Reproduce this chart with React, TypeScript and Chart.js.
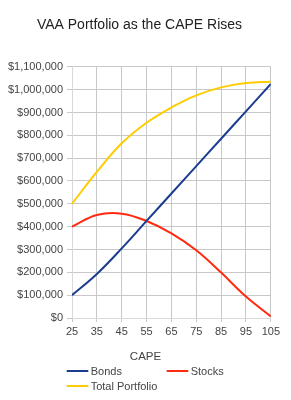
import React, { useEffect, useRef } from "react";
import { Chart, registerables } from "chart.js";

Chart.register(...registerables);

const TITLE = "VAA Portfolio as the CAPE Rises";
const X_TITLE = "CAPE";
const CAPE = [25, 35, 45, 55, 65, 75, 85, 95, 105];
const BONDS = [100000, 193000, 305000, 425000, 545000, 665000, 785000, 905000, 1025000];
const STOCKS = [400000, 451000, 457000, 425000, 371000, 297000, 199000, 94000, 7000];
const TOTAL = [500000, 640000, 765000, 855000, 922000, 975000, 1010000, 1029000, 1035000];
const SERIES_NAMES = ["Bonds", "Stocks", "Total Portfolio"];
const COLORS = ["#1b3d8f", "#ff2a10", "#ffcc00"];

const FONT = '"Liberation Sans", Arial, sans-serif';

const legendPlugin = {
  id: "customLegend",
  afterDraw(chart: any) {
    const ctx = chart.ctx;
    ctx.save();
    ctx.textBaseline = "middle";
    ctx.fillStyle = "#444444";
    ctx.textAlign = "center";
    ctx.font = `11.5px ${FONT}`;
    ctx.fillText(X_TITLE, chart.width / 2, 349);
    const slots = [
      [58.7, 363],
      [158.7, 363],
      [58.7, 378],
    ];
    ctx.font = `11px ${FONT}`;
    chart.data.datasets.forEach((ds: any, i: number) => {
      const [x, y] = slots[i];
      ctx.strokeStyle = ds.borderColor;
      ctx.lineWidth = 2;
      ctx.beginPath();
      ctx.moveTo(x, y);
      ctx.lineTo(x + 21.6, y);
      ctx.stroke();
      ctx.fillStyle = "#444444";
      ctx.textAlign = "left";
      ctx.fillText(ds.label, x + 24, y + 0.5);
    });
    ctx.restore();
  },
};

export default function App() {
  const ref = useRef<HTMLCanvasElement | null>(null);
  useEffect(() => {
    if (!ref.current) return;
    const series = [BONDS, STOCKS, TOTAL];
    const chart = new Chart(ref.current, {
      type: "line",
      data: {
        datasets: series.map((vals, i) => ({
          label: SERIES_NAMES[i],
          data: vals.map((v, j) => ({ x: CAPE[j], y: v })),
          borderColor: COLORS[i],
          backgroundColor: COLORS[i],
          borderWidth: 2,
          pointRadius: 0,
          fill: false,
          tension: 0.4,
        })),
      },
      options: {
        responsive: false,
        animation: false,
        layout: { padding: { left: 0, right: 12, top: 0, bottom: 44 } },
        plugins: {
          legend: { display: false },
          tooltip: { enabled: false },
          title: {
            display: true,
            text: TITLE,
            color: "#222222",
            font: { family: FONT, size: 14, weight: "normal" },
            padding: { top: 9, bottom: 33 },
          },
        },
        scales: {
          x: {
            type: "linear",
            min: 25,
            max: 105,
            ticks: {
              stepSize: 10,
              color: "#444444",
              font: { family: FONT, size: 11 },
              padding: 3,
              maxRotation: 0,
            },
            grid: { color: "#c8c8c8", tickLength: 4, tickColor: "#c8c8c8" },
            border: { color: "#d9d9d9" },
            afterFit: (s: any) => {
              s.height = 30;
            },
          },
          y: {
            min: 0,
            max: 1100000,
            ticks: {
              stepSize: 100000,
              color: "#444444",
              font: { family: FONT, size: 11 },
              padding: 4,
              callback: (v: any) => "$" + Number(v).toLocaleString("en-US"),
            },
            grid: { color: "#c8c8c8", tickLength: 5, tickColor: "#c8c8c8" },
            border: { color: "#d9d9d9" },
            afterFit: (s: any) => {
              s.width = 64;
            },
          },
        },
      },
      plugins: [legendPlugin],
    } as any);
    return () => chart.destroy();
  }, []);
  return (
    <div style={{ width: 275, height: 384 }}>
      <canvas ref={ref} width={275} height={384} style={{ display: "block" }} />
    </div>
  );
}
